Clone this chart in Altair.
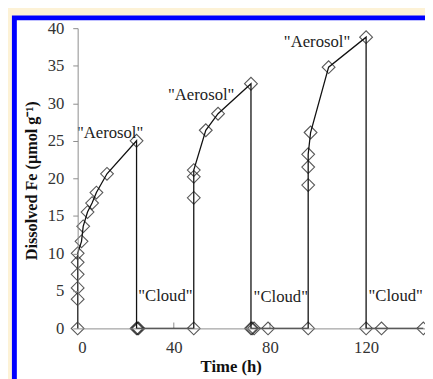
import altair as alt
import pandas as pd

# Time (h) and dissolved Fe (umol g-1), in drawing order of the single connected series
time_h = [0, 0, 0, 0, 0, 0, 1.6, 2.3, 4.1, 6.0, 7.8, 12.2, 24.5,
          24.5, 24.9, 25.3, 48.3,
          48.3, 48.3, 48.3, 53.3, 58.4, 72.1,
          72.1, 72.6, 73.4, 79.2, 95.9,
          95.9, 95.9, 95.9, 96.9, 104.4, 120.0,
          120.0, 126.4, 143.8]
fe = [0, 3.9, 5.4, 7.2, 8.8, 10.0, 11.6, 13.6, 15.5, 16.7, 18.1, 20.6, 25.0,
      0, 0, 0, 0,
      17.4, 20.2, 21.1, 26.4, 28.6, 32.6,
      0, 0, 0, 0, 0,
      19.1, 21.5, 23.2, 26.1, 34.8, 38.8,
      0, 0, 0]

label_text = ['"Aerosol"', '"Aerosol"', '"Aerosol"', '"Cloud"', '"Cloud"', '"Cloud"']
label_x = [13.5, 51.4, 99.6, 36.5, 84.5, 132.3]
label_y = [26.0, 31.1, 38.2, 4.3, 4.2, 4.3]

x_ticks = [0, 40, 80, 120]
y_ticks = [0, 5, 10, 15, 20, 25, 30, 35, 40]

df = pd.DataFrame({"t": time_h, "fe": fe, "order": list(range(len(fe)))})
labels = pd.DataFrame({"text": label_text, "x": label_x, "y": label_y})
ticks = pd.DataFrame({"x": x_ticks})

FONT = "Liberation Serif"
W, H = 354, 306

xscale = alt.Scale(domain=[0, 144.5], nice=False, zero=False)
yscale = alt.Scale(domain=[0, 40], nice=False)

x_axis = alt.Axis(values=x_ticks, ticks=False, grid=False, labelFont=FONT,
                  labelFontSize=17, labelColor="#333333", labelPadding=12,
                  labelOverlap=False,
                  domainColor="#8c8c8c", title="Time (h)", titleFont=FONT,
                  titleFontSize=17, titleFontWeight="bold", titleColor="#111111",
                  titleX=156, titleY=44, titleBaseline="alphabetic", zindex=1)
y_axis = alt.Axis(values=y_ticks, grid=False, tickSize=5, tickColor="#8c8c8c",
                  domainColor="#8c8c8c", labelFont=FONT, labelFontSize=17,
                  labelColor="#333333", labelPadding=9, labelOverlap=False,
                  title="Dissolved Fe (µmol g⁻¹)", titleFont=FONT,
                  titleFontSize=16.5, titleFontWeight="bold", titleColor="#111111",
                  titleX=-42, titleY=155, titleBaseline="alphabetic", titleAngle=-90,
                  zindex=1)

frame = alt.Chart(ticks).mark_rect(fill="white", stroke="#0000FF", strokeWidth=5).encode(
    x=alt.value(-64.5), x2=alt.value(600), y=alt.value(-10.5), y2=alt.value(600)
).transform_filter(alt.datum.x == 0)

tick_marks = alt.Chart(ticks).mark_rule(color="#8c8c8c", strokeWidth=1).encode(
    x=alt.X("x:Q", scale=xscale, axis=x_axis),
    y=alt.value(H - 6), y2=alt.value(H)
)

line = alt.Chart(df).mark_line(color="#111111", strokeWidth=1.3).encode(
    x=alt.X("t:Q", scale=xscale, axis=x_axis),
    y=alt.Y("fe:Q", scale=yscale, axis=y_axis),
    order="order:Q"
)

points = alt.Chart(df).mark_point(shape="diamond", filled=False, size=170,
                                  color="#111111", strokeWidth=1.1).encode(
    x=alt.X("t:Q", scale=xscale, axis=x_axis),
    y=alt.Y("fe:Q", scale=yscale, axis=y_axis)
)

text = alt.Chart(labels).mark_text(font=FONT, fontSize=17, color="#222222",
                                   align="center", baseline="middle").encode(
    x=alt.X("x:Q", scale=xscale, axis=x_axis),
    y=alt.Y("y:Q", scale=yscale, axis=y_axis),
    text="text:N"
)

chart = alt.layer(frame, tick_marks, text, line, points).properties(
    width=W, height=H,
    autosize=alt.AutoSizeParams(type="none"),
    padding={"left": 71, "top": 17, "right": 0, "bottom": 48},
    background="#FDF2D6"
).configure_view(strokeWidth=0)

chart.save("out.html", embed_options={"renderer": "svg", "actions": False})
